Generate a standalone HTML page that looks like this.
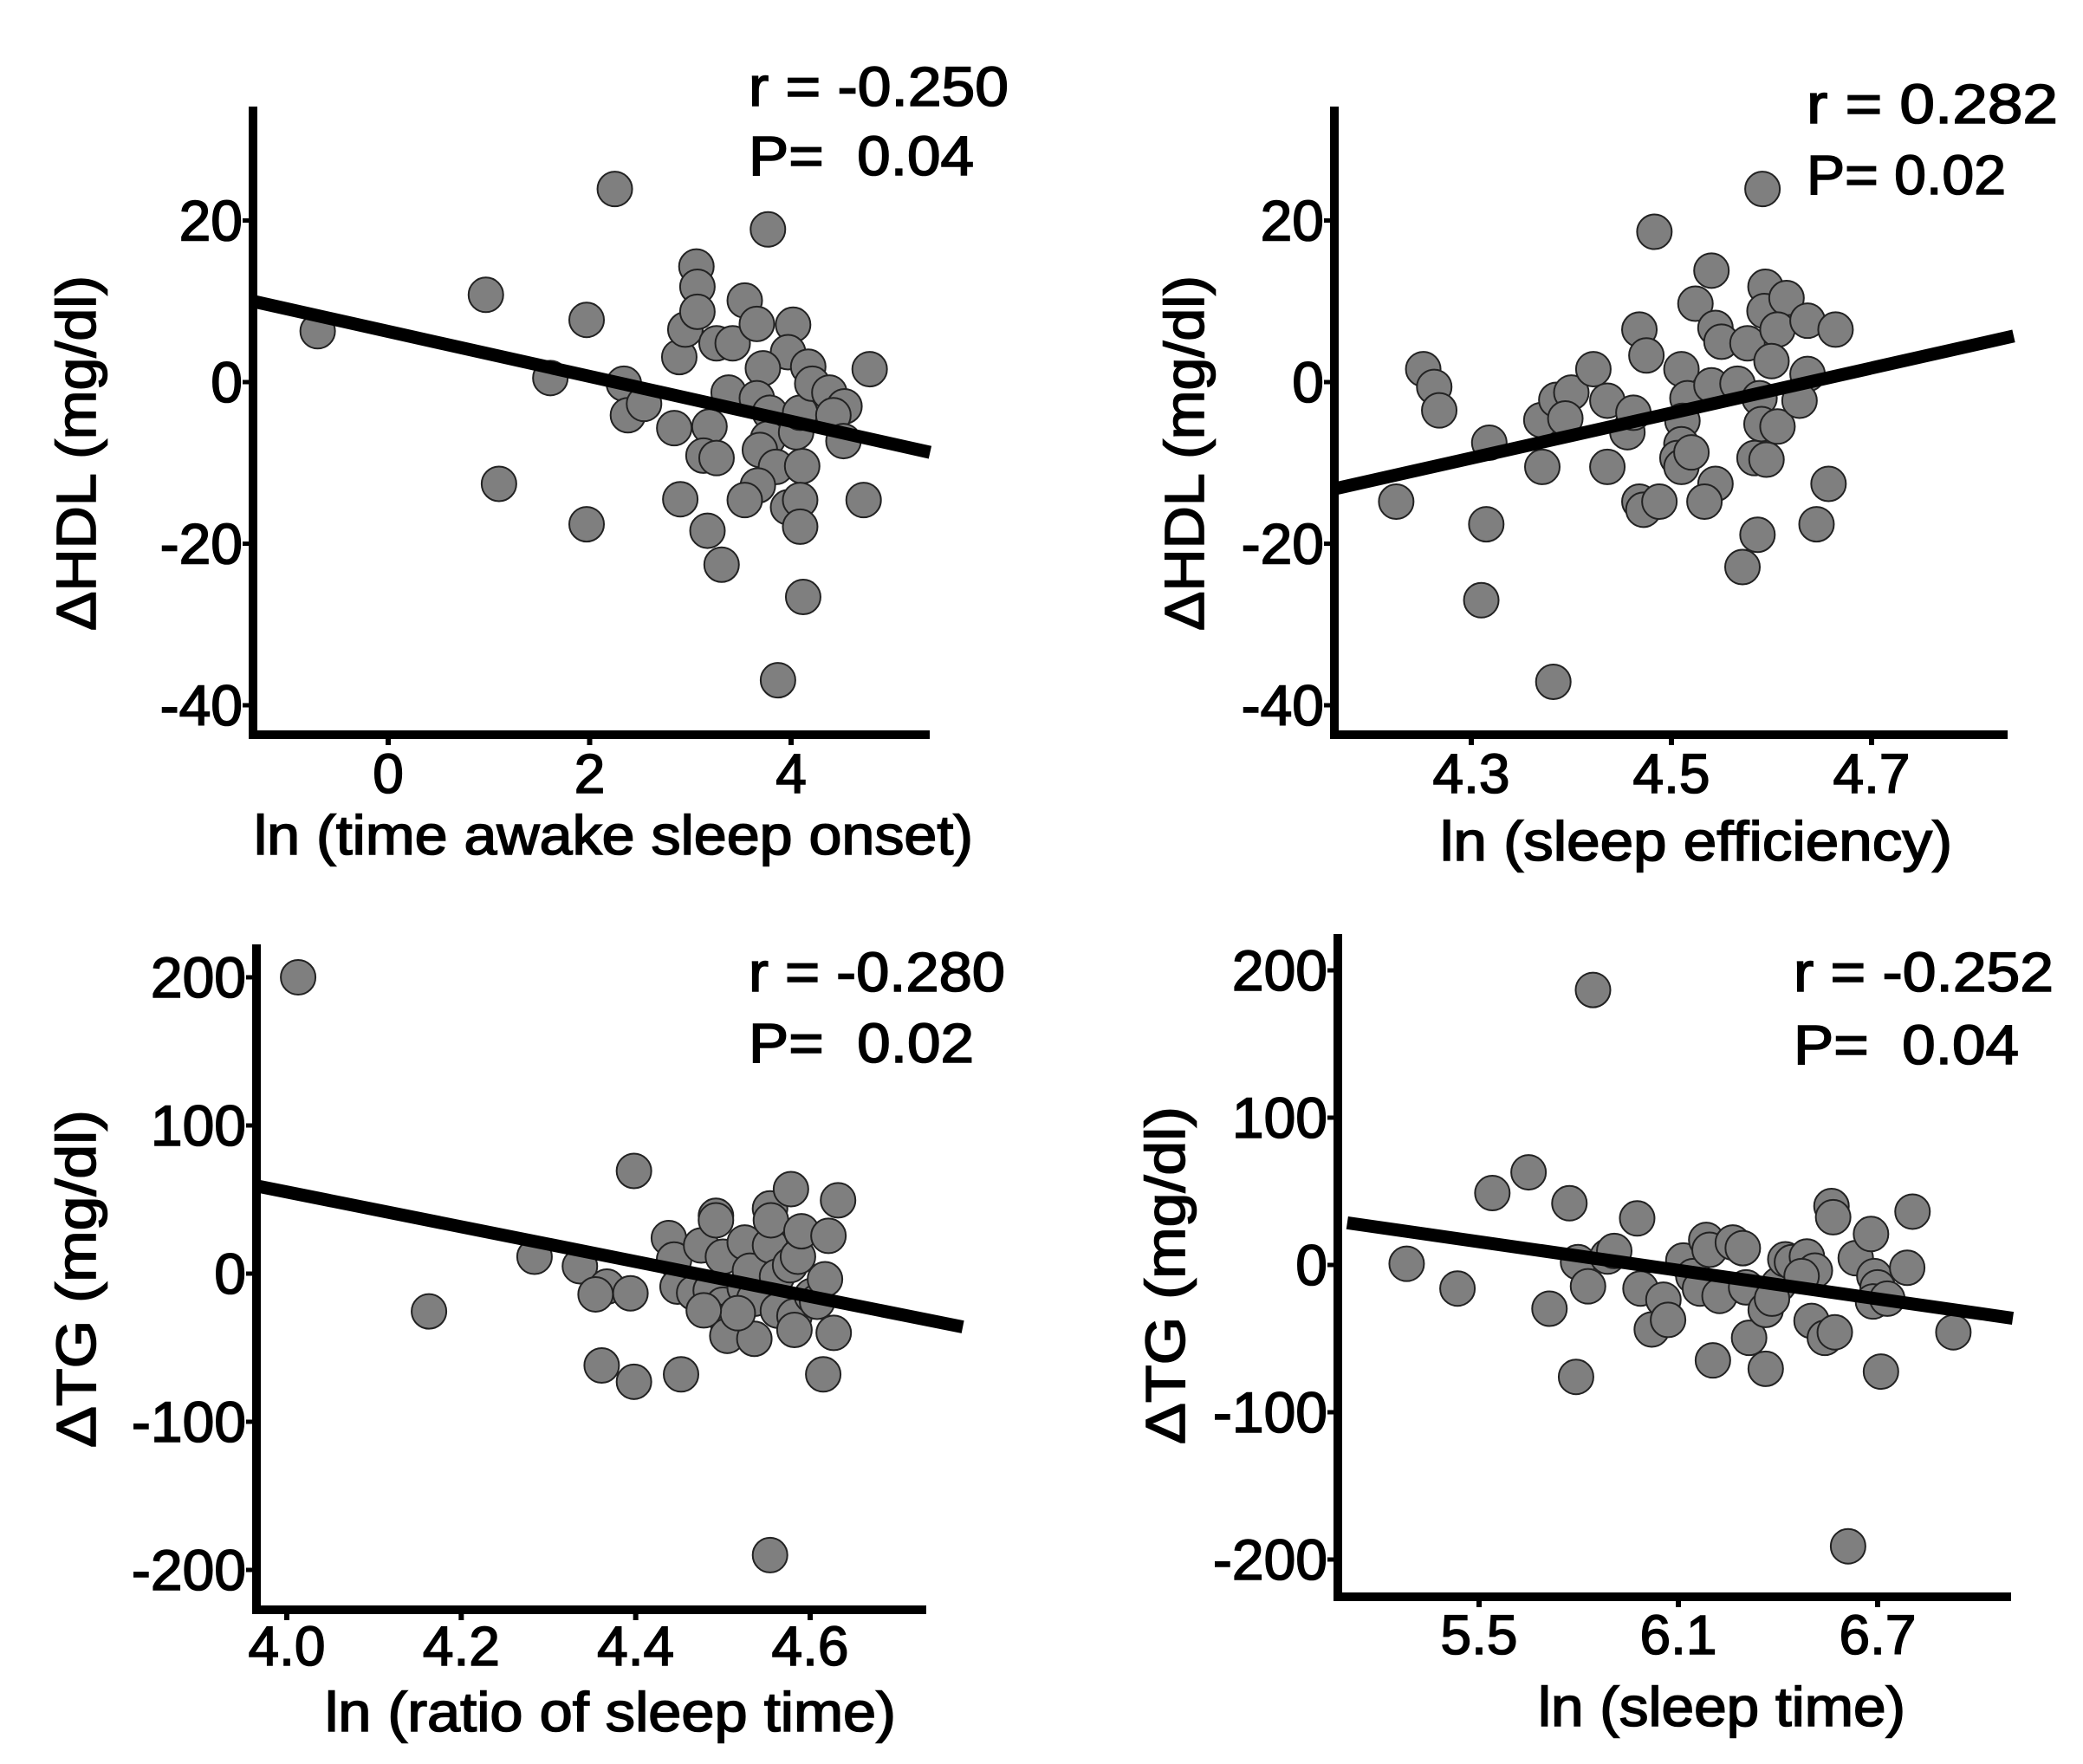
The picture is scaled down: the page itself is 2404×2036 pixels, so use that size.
<!DOCTYPE html>
<html><head><meta charset="utf-8"><style>
html,body{margin:0;padding:0;background:#fff;}
svg{display:block;font-family:"Liberation Sans",Arial,sans-serif;}
svg text{stroke:#000;stroke-width:1.6px;white-space:pre;}
</style></head><body>
<svg id="fig" width="2404" height="2036" viewBox="0 0 2404 2036" xmlns="http://www.w3.org/2000/svg">
<rect width="2404" height="2036" fill="#fff"/>
</svg>
<script>
// ---- Panel A: ΔHDL vs ln(time awake sleep onset)
const aX = [-0.70,2.25,0.97,1.97,1.10,1.97,1.61,3.77,2.34,2.38,2.54,2.84,2.89,2.95,3.06,3.07,3.07,3.26,3.42,3.54,3.66,4.02,3.97,4.17,3.72,3.38,3.66,3.19,3.13,3.26,3.79,3.77,3.69,3.85,4.11,4.05,4.09,4.21,4.38,4.53,4.42,4.52,4.78,4.72,2.90,3.67,3.54,3.97,4.09,4.09,3.17,3.31,4.12,3.87];
const aY = [6.3,23.9,10.8,7.7,-12.6,-17.6,0.5,18.9,-0.2,-4.1,-2.7,-5.7,3.1,6.5,14.3,11.8,8.7,4.8,4.8,10.1,7.2,7.1,3.7,1.9,1.7,-1.3,-2.0,-5.5,-9.1,-9.4,-3.8,-7.0,-8.4,-10.5,-10.4,-6.2,-3.8,-0.2,-1.3,-3.0,-4.1,-7.3,1.6,-14.6,-14.5,-12.8,-14.6,-15.5,-14.6,-17.9,-18.4,-22.6,-26.6,-36.9];
const aXTicks = [0,2,4];
const aYTicks = [20,0,-20,-40];
const aLineX = [-1.34,5.38];
const aLineY = [10.0,-8.7];
// ---- Panel B: ΔHDL vs ln(sleep efficiency)
const bX = [4.225,4.252,4.263,4.268,4.318,4.315,4.310,4.382,4.370,4.371,4.385,4.400,4.394,4.422,4.436,4.436,4.456,4.462,4.468,4.475,4.483,4.468,4.472,4.488,4.510,4.516,4.511,4.510,4.506,4.510,4.520,4.524,4.540,4.544,4.550,4.540,4.566,4.544,4.533,4.576,4.571,4.586,4.591,4.594,4.593,4.615,4.606,4.600,4.588,4.590,4.606,4.583,4.595,4.636,4.664,4.636,4.628,4.657,4.645];
const bY = [-14.8,1.6,-0.6,-3.5,-7.5,-17.6,-27.0,-37.1,-4.7,-10.5,-2.2,-1.3,-4.5,1.6,-2.3,-10.5,-6.2,-3.8,6.5,3.3,18.6,-14.8,-15.8,-14.8,1.6,-2.0,-4.8,-7.7,-9.4,-10.5,-8.7,9.7,13.8,6.7,5.0,-0.4,-0.2,-12.6,-14.8,4.8,-22.9,-18.9,23.9,11.8,8.8,10.4,6.5,2.6,-2.0,-5.2,-5.5,-9.4,-9.6,7.6,6.5,1.0,-2.3,-12.6,-17.6];
const bXTicks = [4.3,4.5,4.7];
const bYTicks = [20,0,-20,-40];
const bLineX = [4.164,4.842];
const bLineY = [-13.2,5.7];
// ---- Panel C: ΔTG vs ln(ratio of sleep time)
const cX = [4.013,4.163,4.284,4.336,4.367,4.354,4.394,4.398,4.361,4.398,4.452,4.438,4.444,4.448,4.467,4.475,4.492,4.492,4.500,4.486,4.500,4.505,4.505,4.525,4.525,4.531,4.536,4.536,4.554,4.554,4.555,4.554,4.562,4.563,4.578,4.577,4.586,4.590,4.582,4.582,4.602,4.608,4.617,4.621,4.632,4.627,4.615,4.517,4.478];
const cY = [200,-25.5,11.4,5,-8.8,-14,-13.3,69.3,-62,-73,-68,24,9.5,-8.8,-13,19,39,36,11.4,-11.4,-21,-32,-42,21,-9.5,2,-17,-44,44,19,36,-190,-2,-25,57,5.7,11.4,28.6,-28.6,-38,-15,-19,-3.8,25.5,49.5,-40,-68,-26.7,-24.8];
const cXTicks = [4.0,4.2,4.4,4.6];
const cXTickLabels = ["4.0","4.2","4.4","4.6"];
const cYTicks = [200,100,0,-100,-200];
const cLineX = [3.967,4.775];
const cLineY = [59,-36];
// ---- Panel D: ΔTG vs ln(sleep time)
const dX = [5.282,5.435,5.540,5.649,5.712,5.772,5.792,5.843,5.798,5.828,5.887,5.907,5.976,5.986,6.020,6.055,6.069,6.115,6.145,6.165,6.184,6.194,6.224,6.204,6.264,6.294,6.304,6.313,6.363,6.363,6.402,6.422,6.442,6.487,6.511,6.501,6.541,6.571,6.561,6.566,6.634,6.680,6.690,6.700,6.686,6.729,6.710,6.789,6.805,6.928,6.611,6.382,6.471];
const dY = [0.8,-16,48.8,62.9,-29.7,41.9,-76,186.7,1.9,-14.5,5.7,9.5,31.6,-16,-43.8,-23.6,-37.3,3,-7.6,-16,17,10.3,-21,-64.8,15.2,11.4,-15.2,-49.5,-30.5,-70.5,-13.3,3.8,1.9,5.7,-3.8,-38,-49.5,-45.7,40,32.4,4.6,21,-7.6,-15.2,-24.8,-22.9,-72.4,-1.9,36.2,-45.7,-191,-22.9,-7.6];
const dXTicks = [5.5,6.1,6.7];
const dYTicks = [200,100,0,-100,-200];
const dLineX = [5.103,7.107];
const dLineY = [28.6,-36.2];

const NS = "http://www.w3.org/2000/svg";
const svg = document.getElementById('fig');
function mk(tag, attrs, parent){
  const e = document.createElementNS(NS, tag);
  for (const k in attrs) e.setAttribute(k, attrs[k]);
  (parent||svg).appendChild(e);
  return e;
}
function lin(d0,d1,p0,p1){ return v => p0 + (v-d0)*(p1-p0)/(d1-d0); }

function panel(c){
  const g = mk('g', {});
  
  
  const sx = lin(c.xa[0], c.xa[1], c.xa[2], c.xa[3]);
  const sy = lin(c.ya[0], c.ya[1], c.ya[2], c.ya[3]);
  for (let i=0;i<c.xs.length;i++){
    const p = mk('circle', {cx:sx(c.xs[i]), cy:sy(c.ys[i]), r:20, fill:'#7f7f7f', stroke:'#222', 'stroke-width':2}, g);
    
    
  }
  const ln = mk('line', {x1:sx(c.lx[0]), y1:sy(c.ly[0]), x2:sx(c.lx[1]), y2:sy(c.ly[1]), stroke:'#000', 'stroke-width':15}, g);
  
  
  const ya = mk('line', {x1:c.axX, y1:c.top, x2:c.axX, y2:c.axY+5, stroke:'#000','stroke-width':10}, g);
  
  
  const xa = mk('line', {x1:c.axX-5, y1:c.axY, x2:c.right, y2:c.axY, stroke:'#000','stroke-width':10}, g);
  
  
  c.yt.forEach(v=>{
    const y = sy(v);
    mk('line', {x1:c.axX-12, y1:y, x2:c.axX, y2:y, stroke:'#000','stroke-width':5}, g);
    const t = mk('text', {x:c.axX-12, y:y+23, 'font-size':66, 'text-anchor':'end', fill:'#000'}, g);
    t.textContent = String(v);
    
    
  });
  c.xt.forEach((v,i)=>{
    const x = sx(v);
    mk('line', {x1:x, y1:c.axY, x2:x, y2:c.axY+12, stroke:'#000','stroke-width':6}, g);
    const t = mk('text', {x:x, y:c.xtBase, 'font-size':64, 'text-anchor':'middle', fill:'#000'}, g);
    t.textContent = c.xtl ? c.xtl[i] : String(v);
    
    
  });
  const xt = mk('text', {x:c.xT[0], y:c.xT[1], 'font-size':64, textLength:c.xT[2], lengthAdjust:'spacingAndGlyphs', fill:'#000'}, g);
  xt.textContent = c.xTitle;
  
  
  const yt = mk('text', {x:0, y:0, 'font-size':64, 'text-anchor':'middle', textLength:c.yT[2], lengthAdjust:'spacingAndGlyphs', fill:'#000', transform:'translate('+c.yT[0]+','+c.yT[1]+') rotate(-90)'}, g);
  yt.textContent = c.yTitle;
  
  
  const r = mk('text', {x:c.st[0], y:c.st[1], 'font-size':64, textLength:c.st[3], lengthAdjust:'spacingAndGlyphs', fill:'#000'}, g);
  r.textContent = c.rText;
  
  
  const p = mk('text', {x:c.st[0], y:c.st[2], 'font-size':64, textLength:c.st[4], lengthAdjust:'spacingAndGlyphs', fill:'#000'}, g);
  p.textContent = c.pText;
  
  
}

panel({name:'panel-hdl-time-awake', xs:aX, ys:aY, lx:aLineX, ly:aLineY, xt:aXTicks, yt:aYTicks,
  xa:[0,4,448,913], ya:[0,-40,441,814], axX:292, axY:848, top:123, right:1073, xtBase:915,
  xT:[293,986,830], xTitle:'ln (time awake sleep onset)', yT:[110,523,410], yTitle:'ΔHDL (mg/dl)',
  st:[864,122,202,300,260], rText:'r = -0.250', pText:'P=  0.04'});
panel({name:'panel-hdl-sleep-efficiency', xs:bX, ys:bY, lx:bLineX, ly:bLineY, xt:bXTicks, yt:bYTicks,
  xa:[4.3,4.7,1698,2160], ya:[0,-40,441,814], axX:1540, axY:848, top:123, right:2317, xtBase:915,
  xT:[1662,993,591], xTitle:'ln (sleep efficiency)', yT:[1389,523,410], yTitle:'ΔHDL (mg/dl)',
  st:[2085,142,224,290,230], rText:'r = 0.282', pText:'P= 0.02'});
panel({name:'panel-tg-ratio-sleep-time', xs:cX, ys:cY, lx:cLineX, ly:cLineY, xt:cXTicks, xtl:cXTickLabels, yt:cYTicks,
  xa:[4.0,4.6,331,935], ya:[0,200,1470,1128], axX:296, axY:1858, top:1090, right:1069, xtBase:1922,
  xT:[375,1998,659], xTitle:'ln (ratio of sleep time)', yT:[110,1476,390], yTitle:'ΔTG (mg/dl)',
  st:[864,1144,1226,296,260], rText:'r = -0.280', pText:'P=  0.02'});
panel({name:'panel-tg-sleep-time', xs:dX, ys:dY, lx:dLineX, ly:dLineY, xt:dXTicks, yt:dYTicks,
  xa:[5.5,6.7,1707,2167], ya:[0,100,1460,1290], axX:1544, axY:1843, top:1078, right:2321, xtBase:1909,
  xT:[1775,1992,424], xTitle:'ln (sleep time)', yT:[1367,1472,390], yTitle:'ΔTG (mg/dl)',
  st:[2070,1144,1228,300,260], rText:'r = -0.252', pText:'P=  0.04'});
</script>
</body></html>
